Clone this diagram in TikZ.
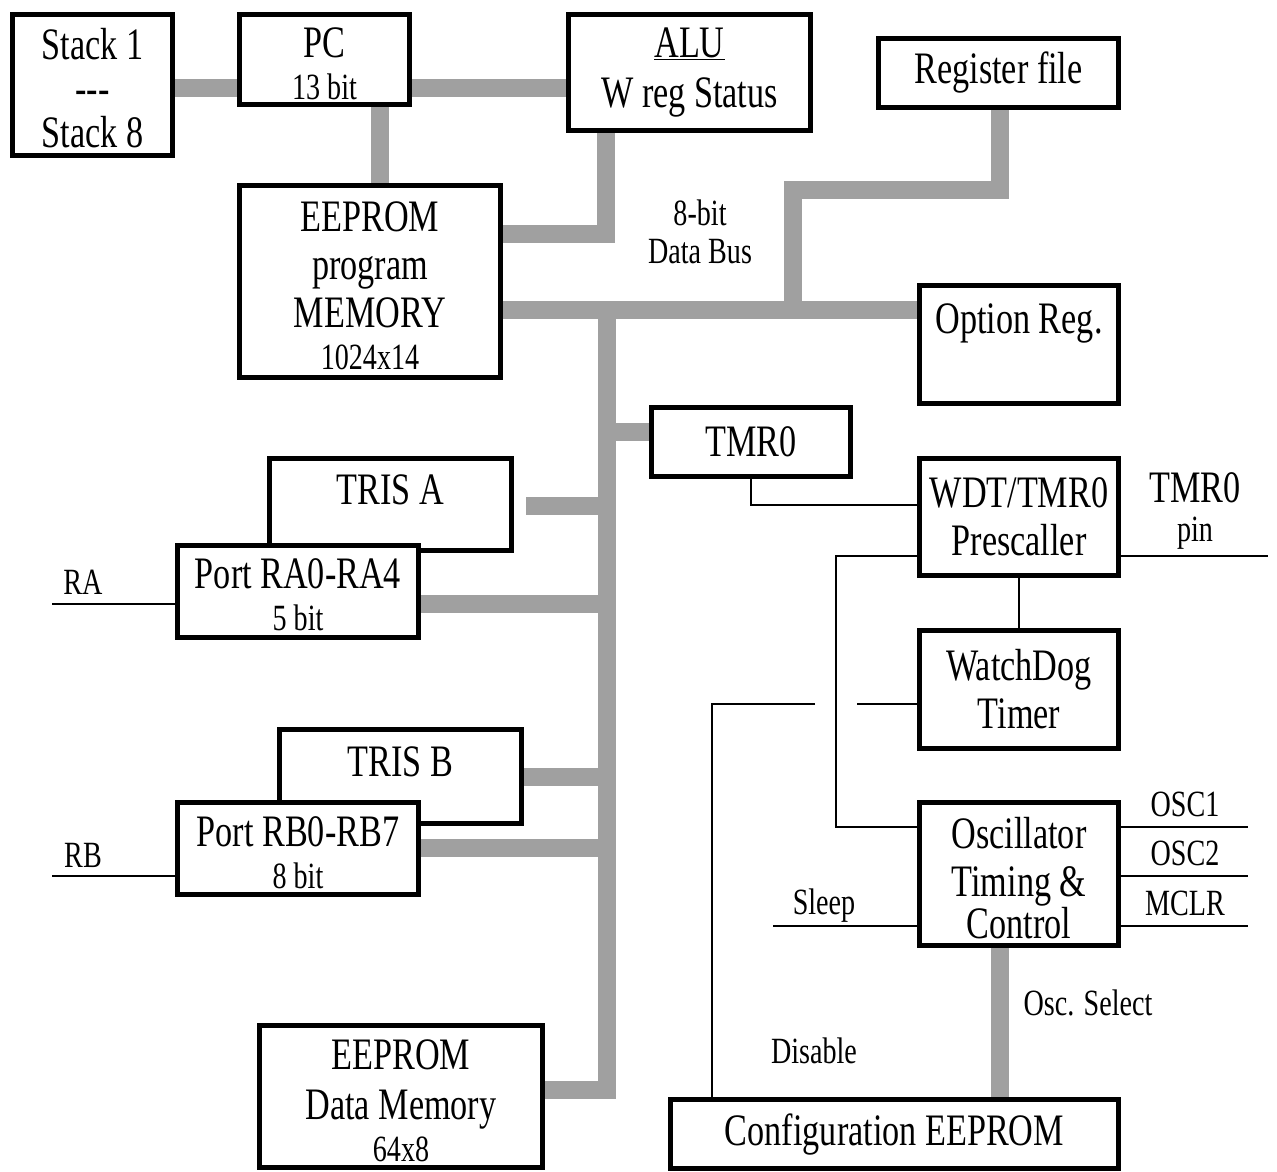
\documentclass[tikz,border=0pt]{standalone}
\usepackage{fontspec}
\setmainfont{Liberation Serif}[FakeStretch=0.76]
\usepackage{tikz}
\usetikzlibrary{backgrounds}
\definecolor{busgray}{RGB}{160,160,160}
\newcommand{\bigtxt}{\fontsize{45}{48}\selectfont}
\newcommand{\smalltxt}{\fontsize{37}{40}\selectfont}
\newcommand{\tp}[2]{\rule{0pt}{#1pt}\smash{#2}}
\tikzstyle{block}=[draw,line width=5pt,fill=white,inner sep=0pt,align=center,font=\bigtxt]
\tikzstyle{bus}=[draw=busgray,line width=18pt]
\tikzstyle{wire}=[draw,line width=2.5pt]
\tikzstyle{lbl}=[inner sep=0pt,font=\smalltxt]
\tikzstyle{biglbl}=[inner sep=0pt,font=\bigtxt]

\begin{document}
\begin{tikzpicture}[x=1pt,y=-1pt]

    \useasboundingbox (0,0) rectangle (1277,1171);

    % core blocks
    \node[block,minimum width=160pt,minimum height=141pt] (stack) at (92.5,85) {\tp{37}{Stack 1}\\[-4pt]{-}{-}{-}\\[-4pt]Stack 8};
    \node[block,minimum width=170pt,minimum height=90pt] (pc) at (324.5,59.5) {\tp{38}{PC}\\[-6pt]{\smalltxt 13 bit}};
    \node[block,minimum width=242pt,minimum height=116pt] (alu) at (689.5,72.5) {\underline{ALU}\\[2pt]W reg Status};
    \node[block,minimum width=240pt,minimum height=69pt] (regfile) at (998.5,73) {Register file};
    \node[block,minimum width=261pt,minimum height=192pt] (progmem) at (370,281.5) {\tp{38}{EEPROM}\\program\\MEMORY\\[-6pt]{\smalltxt 1024x14}};
    \node[block,minimum width=199pt,minimum height=118pt] (option) at (1019,344.5) {\raisebox{11pt}[0pt][0pt]{Option Reg.}};
    \node[block,minimum width=199pt,minimum height=69pt] (tmr) at (751,442) {TMR0};

    % ports
    \node[block,minimum width=242pt,minimum height=92pt] (trisa) at (390.5,504.5) {\smash{TRIS A}};
    \node[block,minimum width=241pt,minimum height=92pt] (porta) at (298,591.5) {\tp{36}{Port RA0-RA4}\\[-6pt]{\smalltxt 5 bit}};
    \node[block,minimum width=242pt,minimum height=94pt] (trisb) at (400.5,776.5) {\smash{TRIS B}};
    \node[block,minimum width=241pt,minimum height=92pt] (portb) at (298,848.5) {\tp{38}{Port RB0-RB7}\\[-6pt]{\smalltxt 8 bit}};
    \node[block,minimum width=283pt,minimum height=142pt] (datamem) at (401,1096) {\tp{40}{EEPROM}\\[2pt]Data Memory\\[-6pt]{\smalltxt 64x8}};

    % timing side
    \node[block,minimum width=199pt,minimum height=117pt] (presc) at (1019,517) {WDT/TMR0\\Prescaller};
    \node[block,minimum width=199pt,minimum height=118pt] (wdt) at (1019,689.5) {WatchDog\\Timer};
    \node[block,minimum width=199pt,minimum height=143pt] (osc) at (1019,874) {\tp{39}{Oscillator}\\Timing \&\\[-6pt]Control};
    \node[block,minimum width=448pt,minimum height=69pt] (config) at (894.5,1134) {Configuration EEPROM};

    % free ends
    \coordinate (raend) at (52,604);
    \coordinate (rbend) at (52,876);
    \coordinate (pinend) at (1268,556);
    \coordinate (sleepend) at (773,926);

    % buses
    \begin{pgfonlayer}{background}
    \path[bus] (stack.east |- 0,88) -- (pc.west |- 0,88);
    \path[bus] (pc.east |- 0,88) -- (alu.west |- 0,88);
    \path[bus] (pc.south -| 380,0) -- (progmem.north -| 380,0);
    \path[bus] (alu.south -| 606,0) |- (progmem.east |- 0,234);
    \path[bus] (progmem.east |- 0,310) -- (option.west |- 0,310);
    \path[bus] (regfile.south -| 1000,0) -- (1000,190) -| (793,310);
    \path[bus] (607,310) -- (607,1090) -- (datamem.east |- 0,1090);
    \path[bus] (607,432) -- (tmr.west |- 0,432);
    \path[bus] (526,506) -- (607,506);
    \path[bus] (porta.east |- 0,604) -- (607,604);
    \path[bus] (trisb.east |- 0,777) -- (607,777);
    \path[bus] (portb.east |- 0,848) -- (607,848);
    \path[bus] (osc.south -| 1000,0) -- (config.north -| 1000,0);
    \end{pgfonlayer}

    % control lines
    \path[wire] (tmr.south) |- (presc.west |- 0,505);
    \path[wire] (presc.west |- 0,556) -| (836,827) -- (osc.west |- 0,827);
    \path[wire] (presc.east |- 0,556) -- (pinend);
    \path[wire] (presc.south) -- (wdt.north);
    \path[wire] (wdt.west |- 0,704) -- (857,704);
    \path[wire] (815,704) -| (config.north -| 712,0);
    \path[wire] (sleepend) -- (osc.west |- 0,926);
    \path[wire] (raend) -- (porta.west |- 0,604);
    \path[wire] (rbend) -- (portb.west |- 0,876);

    \foreach \y/\pin in {827/OSC1, 876/OSC2, 926/MCLR}
    {
        \path[wire] (osc.east |- 0,\y) -- (1248,\y);
        \node[lbl] (l\pin) at (1185,\y-23) {\pin};
    }

    % labels
    \node[lbl] (busa) at (700,213) {8-bit};
    \node[lbl] (busb) at (700,252) {Data Bus};
    \node[biglbl] (pina) at (1195,488) {TMR0};
    \node[lbl] (pinb) at (1195,533) {pin};
    \node[lbl] (ralbl) at (83,582) {RA};
    \node[lbl] (rblbl) at (83,855) {RB};
    \node[lbl] (sleeplbl) at (824,906) {Sleep};
    \node[lbl] (disablelbl) at (814,1051) {Disable};
    \node[lbl] (osclbl) at (1088,1003) {Osc. Select};

\end{tikzpicture}
\end{document}
